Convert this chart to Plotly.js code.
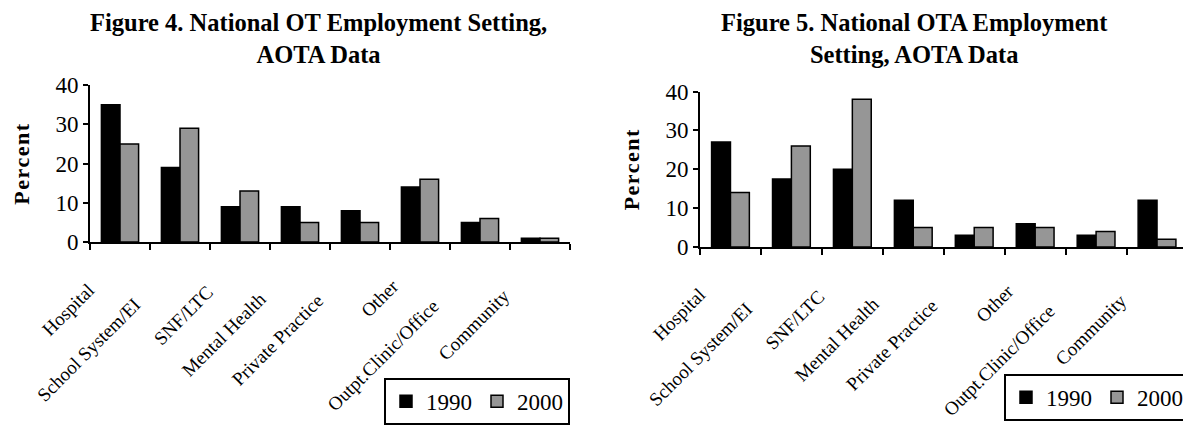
<!DOCTYPE html>
<html><head><meta charset="utf-8">
<script src="https://cdn.plot.ly/plotly-3.0.1.min.js"></script>
<style>
html,body{margin:0;padding:0;overflow:hidden;background:#fff;}
#chart{width:1190px;height:425px;}
.ytitle,.y2title{letter-spacing:1.5px;}
</style></head><body><div id="chart"></div>
<script>
// ---- data ----
const categories = ["Hospital","School System/EI","SNF/LTC","Mental Health","Private Practice","Other","Outpt.Clinic/Office","Community"];
const seriesNames = ["1990","2000"];
const ot1990 = [35,19,9,9,8,14,5,1];
const ot2000 = [25,29,13,5,5,16,6,1];
const ota1990 = [27,17.5,20,12,3,6,3,12];
const ota2000 = [14,26,38,5,5,5,4,2];
const chartTitles = ["Figure 4. National OT Employment Setting,<br>AOTA Data","Figure 5. National OTA Employment<br>Setting, AOTA Data"];
const yTitle = "Percent";
const yTickVals = [0,10,20,30,40];

// ---- style ----
const W = 1190, H = 425;
const FONT = '"Liberation Serif", "Times New Roman", serif';
const colors = ["#000000","#969696"];
const px = v => v / W, py = v => 1 - v / H;
const LABEL_SIZE = 19;

const traces = [
  {x:categories, y:ot1990, name:seriesNames[0], type:'bar', xaxis:'x', yaxis:'y', legend:'legend',
   marker:{color:colors[0], line:{color:'#000', width:1.5}}},
  {x:categories, y:ot2000, name:seriesNames[1], type:'bar', xaxis:'x', yaxis:'y', legend:'legend',
   marker:{color:colors[1], line:{color:'#000', width:1.5}}},
  {x:categories, y:ota1990, name:seriesNames[0], type:'bar', xaxis:'x2', yaxis:'y2', legend:'legend2',
   marker:{color:colors[0], line:{color:'#000', width:1.5}}},
  {x:categories, y:ota2000, name:seriesNames[1], type:'bar', xaxis:'x2', yaxis:'y2', legend:'legend2',
   marker:{color:colors[1], line:{color:'#000', width:1.5}}}
];

const xBase = {type:'category', categoryarray:categories, categoryorder:'array',
  range:[-0.5, categories.length - 0.5], autorange:false,
  showline:true, linecolor:'#000', linewidth:2, ticks:'outside',
  tickson:'boundaries', ticklen:6, tickwidth:2, tickcolor:'#000', showticklabels:false,
  showgrid:false, zeroline:false, fixedrange:true};
const yBase = {range:[0,40], autorange:false, tickvals:yTickVals, showline:true, linecolor:'#000', linewidth:2,
  ticks:'outside', ticklen:5, tickwidth:2, tickcolor:'#000', showgrid:false, zeroline:false,
  tickfont:{family:FONT, size:23, color:'#000'},
  title:{text:yTitle, font:{family:FONT, size:22, color:'#000', weight:'bold'}, standoff:20},
  fixedrange:true};

// rotated category labels
const ctx = document.createElement('canvas').getContext('2d');
ctx.font = LABEL_SIZE + 'px "Liberation Serif"';
const annotations = [];
[['x','y'],['x2','y2']].forEach(([xr, yr]) => {
  categories.forEach(c => {
    const w = ctx.measureText(c).width;
    const dx = (w + 0.66 * LABEL_SIZE) / Math.SQRT2;
    annotations.push({x:c, y:0, xref:xr, yref:yr, text:c, showarrow:false, textangle:-45,
      xanchor:'right', yanchor:'top', xshift:-4 - 0.27 * dx, yshift:-(20 + 0.27 * dx),
      font:{family:FONT, size:LABEL_SIZE, color:'#000'}});
  });
});
annotations.push({x:px(318), y:py(7), xref:'paper', yref:'paper', xanchor:'center', yanchor:'top',
  text:chartTitles[0], showarrow:false, font:{family:FONT, size:24.5, color:'#000', weight:'bold'}});
annotations.push({x:px(914), y:py(7), xref:'paper', yref:'paper', xanchor:'center', yanchor:'top',
  text:chartTitles[1], showarrow:false, font:{family:FONT, size:24.5, color:'#000', weight:'bold'}});

const legendBase = {orientation:'h', bordercolor:'#000', borderwidth:2, bgcolor:'#fff',
  font:{family:FONT, size:23, color:'#000'}, itemwidth:30, xanchor:'right', yanchor:'top',
  itemclick:false, itemdoubleclick:false};

const layout = {
  width:W, height:H, margin:{l:0,r:0,t:0,b:0}, paper_bgcolor:'#fff', plot_bgcolor:'#fff',
  barmode:'group', bargap:0.38, bargroupgap:0, showlegend:true,
  xaxis:Object.assign({}, xBase, {domain:[px(90), px(570)], anchor:'y'}),
  yaxis:Object.assign({}, yBase, {domain:[py(246.7), py(86.7)], anchor:'x'}),
  xaxis2:Object.assign({}, xBase, {domain:[px(700), px(1187.5)], anchor:'y2'}),
  yaxis2:Object.assign({}, yBase, {domain:[py(251.7), py(93.3)], anchor:'x2'}),
  legend:Object.assign({}, legendBase, {x:px(570), y:py(385)}),
  legend2:Object.assign({}, legendBase, {x:px(1190), y:py(381)}),
  annotations:annotations
};

Plotly.newPlot('chart', traces, layout, {displayModeBar:false, staticPlot:true});
</script></body></html>
